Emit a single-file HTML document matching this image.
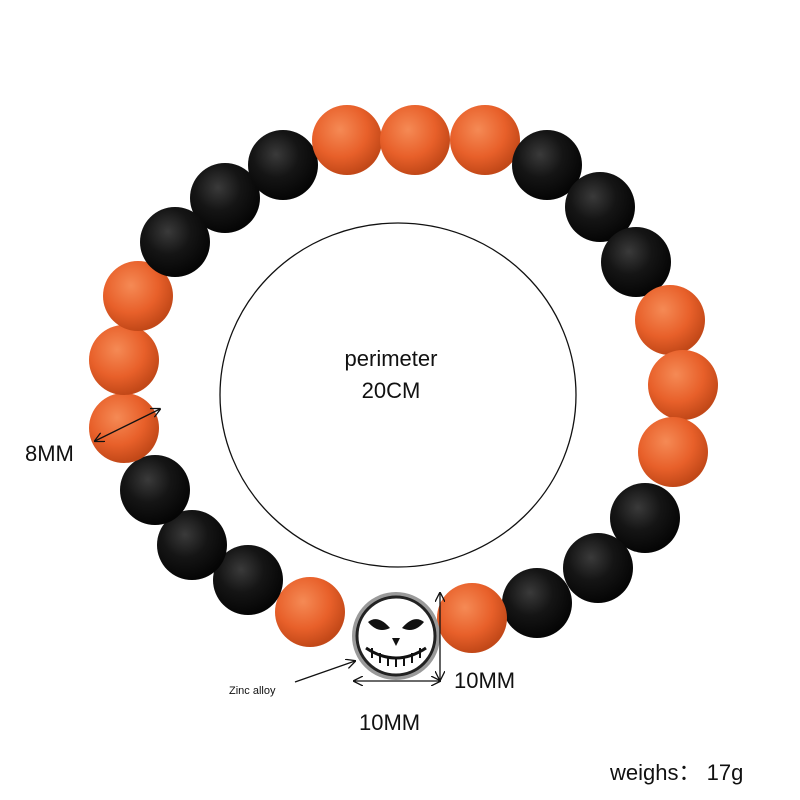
<!DOCTYPE html>
<html><head><meta charset="utf-8"><style>
html,body{margin:0;padding:0;background:#fff;}
svg{display:block;}
text{font-family:"Liberation Sans",Arial,sans-serif;fill:#111;}
</style></head><body>
<svg width="800" height="800" viewBox="0 0 800 800" xmlns="http://www.w3.org/2000/svg">
<defs>
<radialGradient id="o" cx="40%" cy="35%" r="65%">
<stop offset="0" stop-color="#f58a55"/><stop offset="0.6" stop-color="#e8602a"/><stop offset="1" stop-color="#c24818"/>
</radialGradient>
<radialGradient id="b" cx="40%" cy="35%" r="65%">
<stop offset="0" stop-color="#3a3a3a"/><stop offset="0.5" stop-color="#151515"/><stop offset="1" stop-color="#050505"/>
</radialGradient>
<marker id="a" markerWidth="10" markerHeight="10" refX="9" refY="5" orient="auto-start-reverse" markerUnits="userSpaceOnUse">
<path d="M0,0 L10,5 L0,10" fill="none" stroke="#111" stroke-width="1.3"/>
</marker>
</defs>
<ellipse cx="398" cy="395" rx="178" ry="172" fill="none" stroke="#111" stroke-width="1.3"/>
<g>
<circle cx="225" cy="198" r="35" fill="url(#b)"/>
<circle cx="283" cy="165" r="35" fill="url(#b)"/>
<circle cx="347" cy="140" r="35" fill="url(#o)"/>
<circle cx="415" cy="140" r="35" fill="url(#o)"/>
<circle cx="485" cy="140" r="35" fill="url(#o)"/>
<circle cx="547" cy="165" r="35" fill="url(#b)"/>
<circle cx="600" cy="207" r="35" fill="url(#b)"/>
<circle cx="636" cy="262" r="35" fill="url(#b)"/>
<circle cx="670" cy="320" r="35" fill="url(#o)"/>
<circle cx="683" cy="385" r="35" fill="url(#o)"/>
<circle cx="673" cy="452" r="35" fill="url(#o)"/>
<circle cx="645" cy="518" r="35" fill="url(#b)"/>
<circle cx="598" cy="568" r="35" fill="url(#b)"/>
<circle cx="537" cy="603" r="35" fill="url(#b)"/>
<circle cx="472" cy="618" r="35" fill="url(#o)"/>
<circle cx="310" cy="612" r="35" fill="url(#o)"/>
<circle cx="248" cy="580" r="35" fill="url(#b)"/>
<circle cx="192" cy="545" r="35" fill="url(#b)"/>
<circle cx="155" cy="490" r="35" fill="url(#b)"/>
<circle cx="124" cy="428" r="35" fill="url(#o)"/>
<circle cx="124" cy="360" r="35" fill="url(#o)"/>
<circle cx="138" cy="296" r="35" fill="url(#o)"/>
<circle cx="175" cy="242" r="35" fill="url(#b)"/>
</g>
<circle cx="396" cy="636" r="44" fill="#9a9a9a"/>
<circle cx="396" cy="636" r="39" fill="#fff" stroke="#222" stroke-width="3"/>
<path d="M368,622 Q378,614 390,628 Q378,634 368,622Z" fill="#111"/>
<path d="M424,622 Q414,614 402,628 Q414,634 424,622Z" fill="#111"/>
<path d="M392,638 L396,646 L400,638Z" fill="#111"/>
<path d="M366,648 Q396,668 426,648" fill="none" stroke="#111" stroke-width="3"/>
<path d="M372,648 l0,10 M380,653 l0,10 M388,656 l0,10 M396,657 l0,10 M404,656 l0,10 M412,653 l0,10 M420,648 l0,10" stroke="#111" stroke-width="2"/>
<line x1="95" y1="441" x2="160" y2="409" stroke="#111" stroke-width="1.3" marker-start="url(#a)" marker-end="url(#a)"/>
<line x1="354" y1="681" x2="440" y2="681" stroke="#111" stroke-width="1.3" marker-start="url(#a)" marker-end="url(#a)"/>
<line x1="440" y1="593" x2="440" y2="680" stroke="#111" stroke-width="1.3" marker-start="url(#a)" marker-end="url(#a)"/>
<line x1="295" y1="682" x2="355" y2="661" stroke="#111" stroke-width="1.3" marker-end="url(#a)"/>
<text x="391" y="366" font-size="22" text-anchor="middle">perimeter</text>
<text x="391" y="398" font-size="22" text-anchor="middle">20CM</text>
<text x="25" y="461" font-size="22">8MM</text>
<text x="454" y="688" font-size="22">10MM</text>
<text x="359" y="730" font-size="22">10MM</text>
<text x="229" y="694" font-size="11">Zinc alloy</text>
<text x="610" y="780" font-size="22">weighs：  17g</text>
</svg>
</body></html>
